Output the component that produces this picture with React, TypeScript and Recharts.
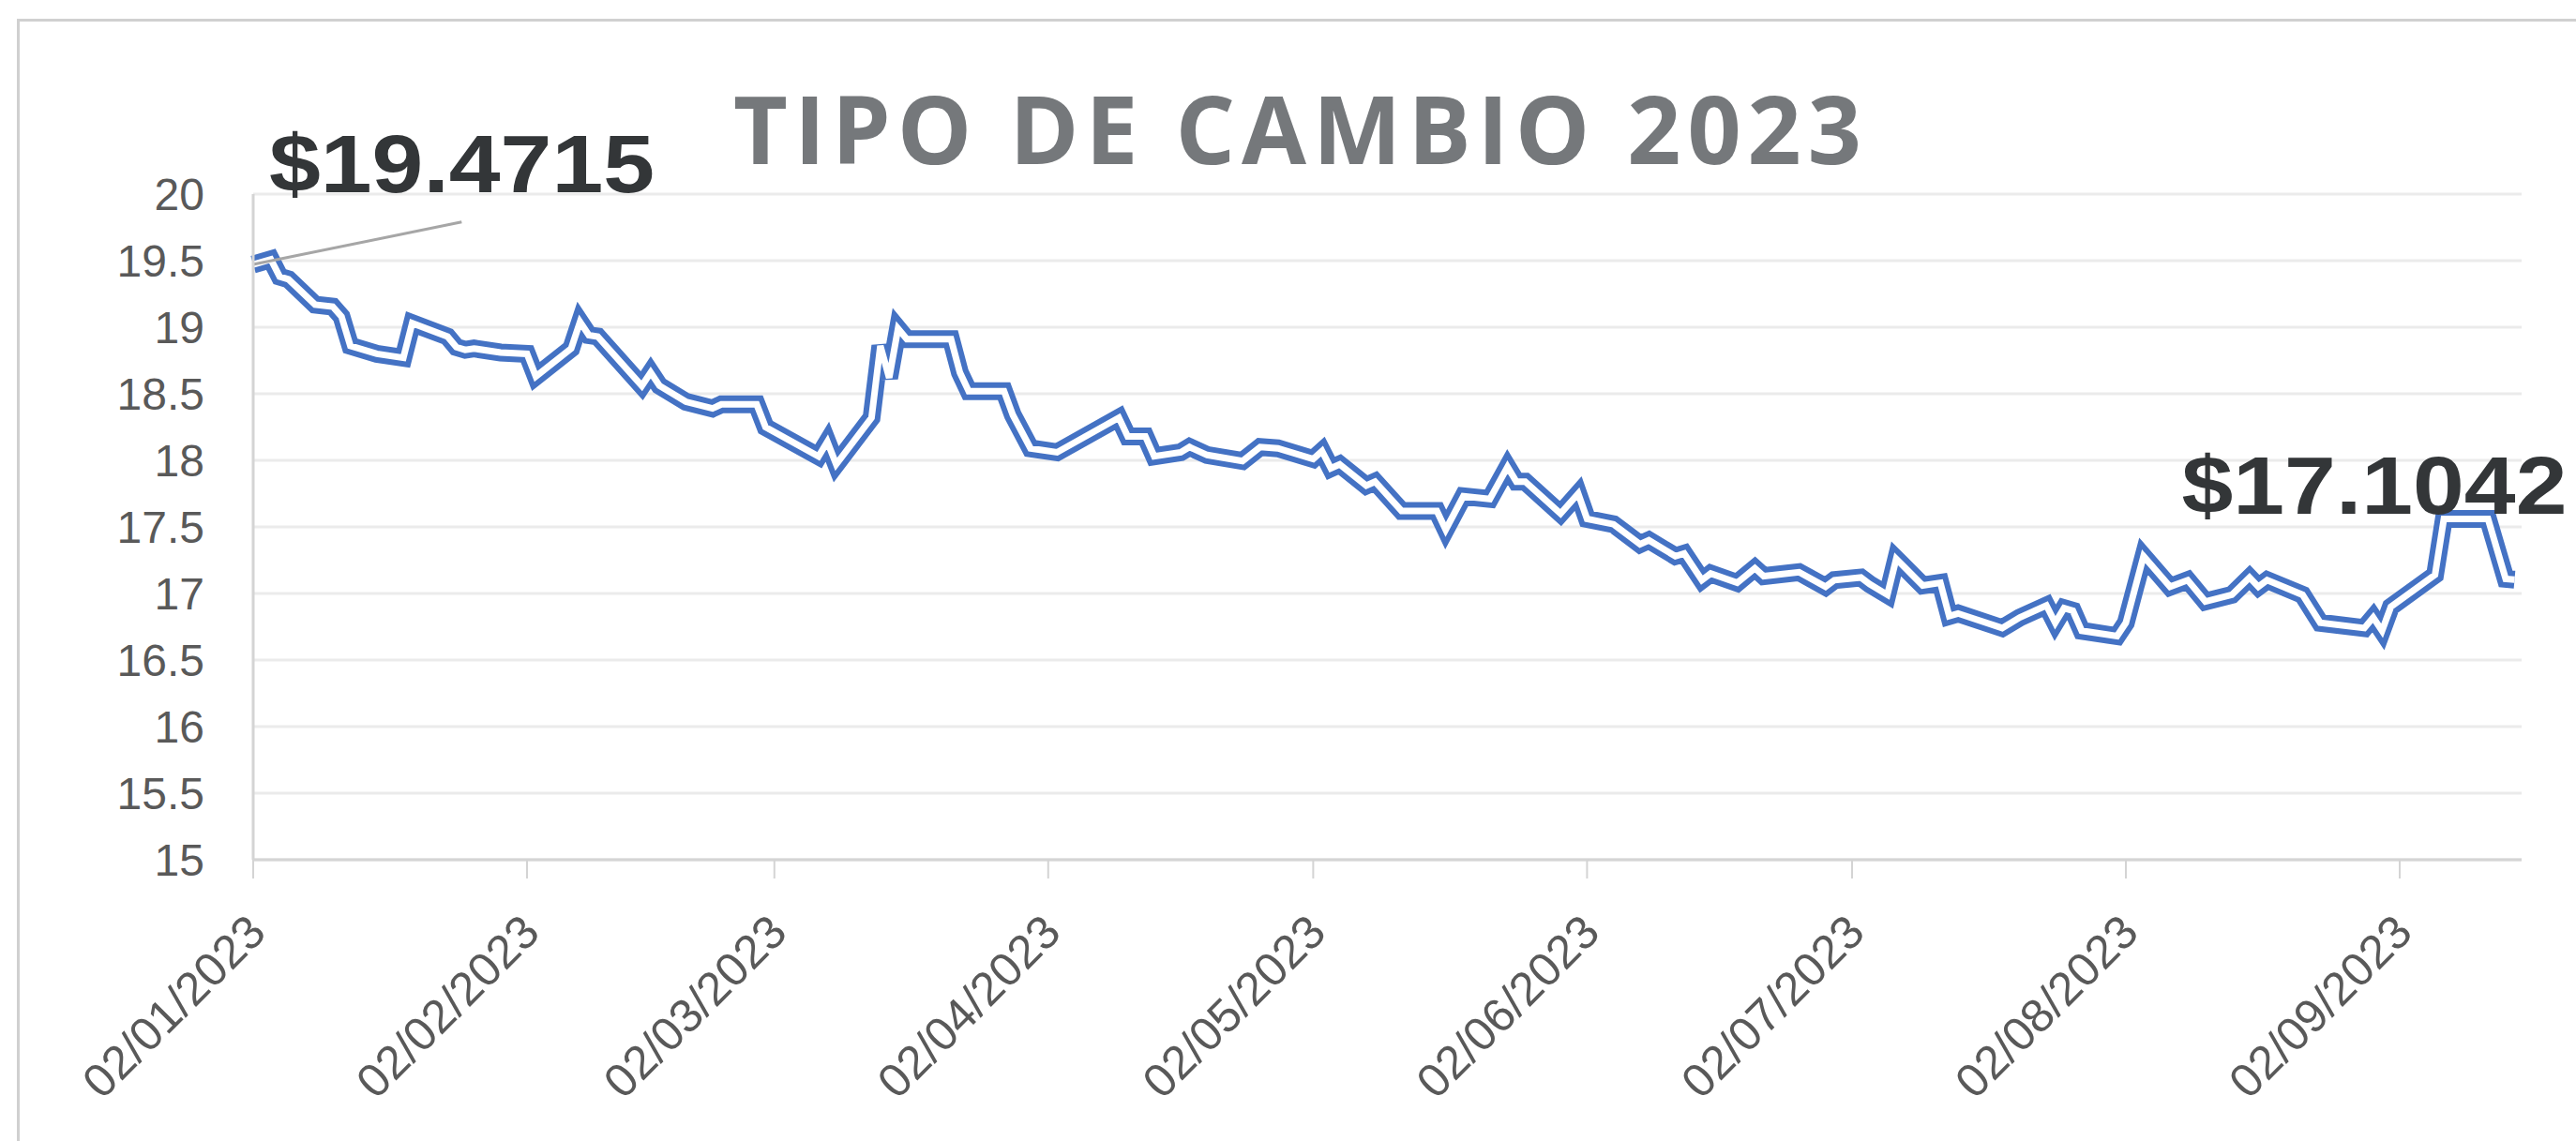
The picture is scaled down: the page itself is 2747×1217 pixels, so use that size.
import { LineChart, Line, XAxis, YAxis, CartesianGrid, ReferenceLine, LabelList } from 'recharts';

// Tipo de cambio (FIX), por fecha
const fechas = [
  '2023-01-02', '2023-01-04', '2023-01-05', '2023-01-06', '2023-01-09', '2023-01-11', '2023-01-12', '2023-01-13', '2023-01-16', '2023-01-19',
  '2023-01-20', '2023-01-24', '2023-01-25', '2023-01-26', '2023-01-27', '2023-01-30', '2023-02-02', '2023-02-03', '2023-02-07', '2023-02-08',
  '2023-02-09', '2023-02-10', '2023-02-15', '2023-02-16', '2023-02-17', '2023-02-20', '2023-02-23', '2023-02-24', '2023-02-28', '2023-03-01',
  '2023-03-07', '2023-03-08', '2023-03-09', '2023-03-13', '2023-03-14', '2023-03-15', '2023-03-16', '2023-03-17', '2023-03-22', '2023-03-23',
  '2023-03-24', '2023-03-28', '2023-03-29', '2023-03-31', '2023-04-03', '2023-04-10', '2023-04-11', '2023-04-13', '2023-04-14', '2023-04-17',
  '2023-04-18', '2023-04-20', '2023-04-24', '2023-04-26', '2023-04-28', '2023-05-02', '2023-05-03', '2023-05-04', '2023-05-05', '2023-05-08',
  '2023-05-09', '2023-05-12', '2023-05-16', '2023-05-17', '2023-05-19', '2023-05-22', '2023-05-24', '2023-05-25', '2023-05-26', '2023-05-30',
  '2023-06-01', '2023-06-02', '2023-06-05', '2023-06-08', '2023-06-09', '2023-06-12', '2023-06-13', '2023-06-15', '2023-06-16', '2023-06-19',
  '2023-06-21', '2023-06-22', '2023-06-26', '2023-06-29', '2023-06-30', '2023-07-03', '2023-07-04', '2023-07-06', '2023-07-07', '2023-07-10',
  '2023-07-12', '2023-07-13', '2023-07-14', '2023-07-19', '2023-07-21', '2023-07-24', '2023-07-25', '2023-07-26', '2023-07-27', '2023-07-28',
  '2023-07-31', '2023-08-01', '2023-08-02', '2023-08-04', '2023-08-07', '2023-08-09', '2023-08-11', '2023-08-14', '2023-08-16', '2023-08-17',
  '2023-08-18', '2023-08-22', '2023-08-24', '2023-08-29', '2023-08-30', '2023-08-31', '2023-09-01', '2023-09-06', '2023-09-07', '2023-09-12',
  '2023-09-14', '2023-09-15',
];

const tipoCambio = [
  19.4715, 19.51, 19.38, 19.36, 19.17, 19.155, 19.08, 18.86, 18.8, 18.77,
  19.03, 18.93, 18.85, 18.83, 18.84, 18.81, 18.8, 18.63, 18.84, 19.04,
  18.94, 18.93, 18.56, 18.66, 18.56, 18.44, 18.39, 18.42, 18.42, 18.25,
  18.03, 18.14, 17.97, 18.32, 18.86, 18.62, 18.99, 18.91, 18.91, 18.66,
  18.52, 18.52, 18.34, 18.09, 18.06, 18.32, 18.18, 18.18, 18.03, 18.06,
  18.1, 18.04, 17.995, 18.1, 18.09, 18.01, 18.07, 17.94, 17.97, 17.81,
  17.84, 17.62, 17.62, 17.48, 17.73, 17.71, 17.95, 17.84, 17.84, 17.6,
  17.75, 17.56, 17.52, 17.37, 17.4, 17.28, 17.3, 17.1, 17.15, 17.08,
  17.19, 17.13, 17.16, 17.05, 17.1, 17.12, 17.07, 16.99, 17.26, 17.06,
  17.08, 16.83, 16.85, 16.74, 16.82, 16.91, 16.78, 16.89, 16.87, 16.72,
  16.69, 16.68, 16.78, 17.28, 17.05, 17.1, 16.94, 16.99, 17.12, 17.05,
  17.1, 16.99, 16.78, 16.74, 16.82, 16.72, 16.9, 17.14, 17.56, 17.56,
  17.11, 17.1042,
];

const fechasEje = ['2023-01-02', '2023-02-02', '2023-03-02', '2023-04-02', '2023-05-02', '2023-06-02', '2023-07-02', '2023-08-02', '2023-09-02'];
const etiquetasEje = ['02/01/2023', '02/02/2023', '02/03/2023', '02/04/2023', '02/05/2023', '02/06/2023', '02/07/2023', '02/08/2023', '02/09/2023'];
const marcasY = [15, 15.5, 16, 16.5, 17, 17.5, 18, 18.5, 19, 19.5, 20];

// días desde el 2 de enero
const dia = (f: string) => {
  const [a, m, d] = f.split('-').map(Number);
  return (Date.UTC(a, m - 1, d) - Date.UTC(2023, 0, 2)) / 86400000;
};

const datos = fechas.map((f, i) => ({ dia: dia(f), valor: tipoCambio[i] }));
const diasEje = fechasEje.map(dia);

const fuente = "'Liberation Sans', Arial, sans-serif";

function TickY({ y, payload }: any) {
  // etiquetas alineadas a la derecha, ~52px antes del eje
  return (
    <text x={218} y={y} dy="0.355em" textAnchor="end" fill="#595959" fontSize={48} fontFamily={fuente}>
      {payload.value}
    </text>
  );
}

function TickX({ x, y, index }: any) {
  return (
    <text x={0} y={0} textAnchor="end" transform={`translate(${x + 16},${y + 60}) rotate(-45)`}
      fill="#595959" fontSize={50} fontFamily={fuente}>
      {etiquetasEje[index]}
    </text>
  );
}

function Etiqueta({ x, y, value, index }: any) {
  const ultimo = index === datos.length - 1;
  if (index !== 0 && !ultimo) return null;
  const tx = ultimo ? x + 56 : x + 17;
  const ty = ultimo ? y - 70 : y - 77;
  return (
    <text x={0} y={0} textAnchor={ultimo ? 'end' : 'start'} transform={`translate(${tx},${ty}) scale(1.12,1)`}
      fill="#333638" fontSize={88} fontWeight="bold" fontFamily={fuente}>
      {`$${Number(value).toFixed(4)}`}
    </text>
  );
}

export default function App() {
  return (
    <div style={{ position: 'absolute', left: 0, top: 0, width: 2747, height: 1217, overflow: 'hidden', background: '#fff' }}>
      <div style={{ position: 'absolute', left: 18, top: 20, width: 2800, height: 1300, border: '3px solid #d0d0d0' }} />
      <div style={{ position: 'absolute', left: 0, top: 0 }}>
        <LineChart width={2747} height={1217} data={datos} margin={{ top: 207, right: 58, bottom: 0, left: 0 }}>
          <CartesianGrid vertical={false} stroke="#ebebeb" strokeWidth={3} />
          <XAxis
            type="number"
            dataKey="dia"
            domain={[0, 256.8]}
            ticks={diasEje}
            interval={0}
            height={300}
            tickSize={20}
            tickMargin={0}
            tick={<TickX />}
            tickLine={{ stroke: '#d4d4d4', strokeWidth: 2 }}
            axisLine={{ stroke: '#d4d4d4', strokeWidth: 3 }}
          />
          <YAxis
            type="number"
            domain={[15, 20]}
            ticks={marcasY}
            interval={0}
            width={270}
            tick={<TickY />}
            tickLine={false}
            axisLine={{ stroke: '#d4d4d4', strokeWidth: 3 }}
          />
          <Line type="linear" dataKey="valor" stroke="#4472C4" strokeWidth={19} dot={false} activeDot={false} isAnimationActive={false} />
          <Line type="linear" dataKey="valor" stroke="#ffffff" strokeWidth={7} dot={false} activeDot={false} isAnimationActive={false}>
            <LabelList dataKey="valor" content={<Etiqueta />} />
          </Line>
          <ReferenceLine
            segment={[{ x: 0, y: 19.4715 }, { x: 23.6, y: 19.79 }]}
            stroke="#a6a6a6"
            strokeWidth={3}
          />
        </LineChart>
      </div>
      <svg width={2747} height={300} style={{ position: 'absolute', left: 0, top: 0, pointerEvents: 'none' }}>
        <text x={1387} y={175} textAnchor="middle" fill="#75787b" fontSize={100} fontWeight={700} letterSpacing={7}
          fontFamily="'Open Sans', 'Noto Sans', sans-serif">
          TIPO DE CAMBIO 2023
        </text>
      </svg>
    </div>
  );
}
